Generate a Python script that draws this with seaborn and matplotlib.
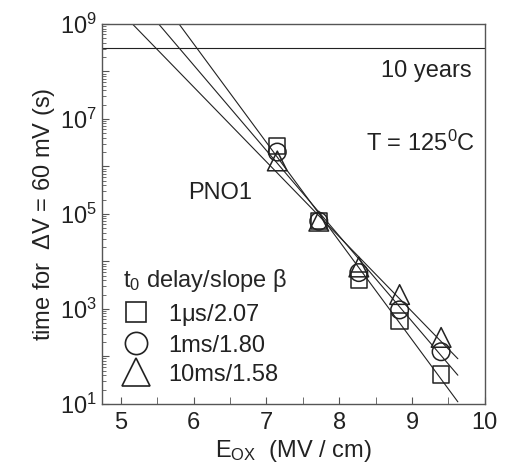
import numpy as np
import pandas as pd
import matplotlib
matplotlib.use("Agg")
import matplotlib.pyplot as plt
import matplotlib.ticker as mticker
from matplotlib.lines import Line2D
import seaborn as sns

# measured points: oxide field (MV/cm) vs time to reach dV = 60 mV (s)
e_ox = [7.15, 7.72, 8.27, 8.83, 9.40]
t_1us = [2.7e6, 7.0e4, 4.0e3, 5.6e2, 41]
t_1ms = [2.0e6, 7.0e4, 5.8e3, 9.5e2, 125]
t_10ms = [1.3e6, 7.0e4, 7.6e3, 2.0e3, 250]

series_names = ["1$\\mu$s/2.07", "1ms/1.80", "10ms/1.58"]
series_markers = ["s", "o", "^"]

# end points of the fitted lines
fit_x_start = [5.80, 5.52, 5.16]
fit_t_start = [1e9, 1e9, 1e9]
fit_x_end = [9.63, 9.63, 9.63]
fit_t_end = [11, 40, 89]

ten_years = 3.15e8

sns.set_style("white")
plt.rcParams["font.family"] = ["Liberation Sans", "DejaVu Sans"]
plt.rcParams["mathtext.fontset"] = "custom"
plt.rcParams["mathtext.rm"] = "Liberation Sans"
plt.rcParams["mathtext.it"] = "Liberation Sans:italic"
plt.rcParams["mathtext.default"] = "regular"

fs = 17
fig = plt.figure(figsize=(5.05, 4.69), dpi=100)
ax = fig.add_axes([0.202, 0.139, 0.758, 0.810])

ink = "#222222"
all_t = [t_1us, t_1ms, t_10ms]

for i in range(3):
    fit = pd.DataFrame({"E": [fit_x_start[i], fit_x_end[i]],
                        "t": [fit_t_start[i], fit_t_end[i]]})
    sns.lineplot(data=fit, x="E", y="t", ax=ax, color=ink, lw=0.8,
                 estimator=None, sort=False)

sizes = [140, 160, 200]
for i in range(3):
    pts = pd.DataFrame({"E": e_ox, "t": all_t[i]})
    sns.scatterplot(data=pts, x="E", y="t", ax=ax, marker=series_markers[i],
                    s=sizes[i], facecolor="none", edgecolor=ink,
                    linewidth=1.1, zorder=3)

ax.axhline(ten_years, color=ink, lw=0.8)

ax.set_yscale("log")
ax.set_xlim(4.743, 10.0)
ax.set_ylim(1e1, 1e9)

ax.yaxis.set_major_locator(mticker.LogLocator(base=10, numticks=20))
ax.yaxis.set_minor_locator(mticker.LogLocator(base=10, subs=np.arange(2, 10), numticks=20))


def ylab(v, pos):
    e = int(round(np.log10(v)))
    return "$10^{%d}$" % e if e % 2 == 1 else ""


ax.yaxis.set_major_formatter(mticker.FuncFormatter(ylab))
ax.xaxis.set_major_locator(mticker.MultipleLocator(1))
ax.xaxis.set_minor_locator(mticker.MultipleLocator(0.5))
ax.xaxis.set_major_formatter(mticker.FormatStrFormatter("%d"))

ax.tick_params(axis="both", which="both", direction="in", colors="#555555",
               labelcolor="#222222", labelsize=fs)
ax.tick_params(axis="both", which="major", length=5, width=0.8, left=True, bottom=True)
ax.tick_params(axis="both", which="minor", length=3, width=0.6, left=True, bottom=True)
ax.tick_params(axis="x", which="minor", length=5)
ax.tick_params(axis="x", pad=6)
ax.tick_params(axis="y", pad=4)

for sp in ax.spines.values():
    sp.set_color("#555555")
    sp.set_linewidth(1.0)

ax.set_xlabel("E$_{OX}$  (MV / cm)", fontsize=fs, color="#222222", labelpad=3)
ax.set_ylabel("time for  $\\Delta$V = 60 mV (s)", fontsize=fs, color="#222222", labelpad=2)

ax.text(0.965, 0.875, "10 years", transform=ax.transAxes, ha="right", va="center",
        fontsize=fs, color="#222222")
ax.text(0.975, 0.685, "T = 125$^0$C", transform=ax.transAxes, ha="right", va="center",
        fontsize=fs, color="#222222")
ax.text(0.225, 0.555, "PNO1", transform=ax.transAxes, ha="left", va="center",
        fontsize=fs, color="#222222")

handles = [Line2D([], [], ls="none", marker=series_markers[i], markersize=[15, 16, 20][i],
                  markerfacecolor="none", markeredgecolor=ink, markeredgewidth=1.2)
           for i in range(3)]
leg = ax.legend(handles, series_names, title="t$_0$ delay/slope β", loc="upper left",
                bbox_to_anchor=(0.025, 0.39), frameon=False, fontsize=fs,
                title_fontsize=fs, alignment="left", handlelength=1.1,
                handletextpad=0.8, labelspacing=0.3, borderpad=0.2,
                borderaxespad=0.3)
for txt in leg.get_texts():
    txt.set_color("#222222")

fig.savefig("out.png", dpi=100)
